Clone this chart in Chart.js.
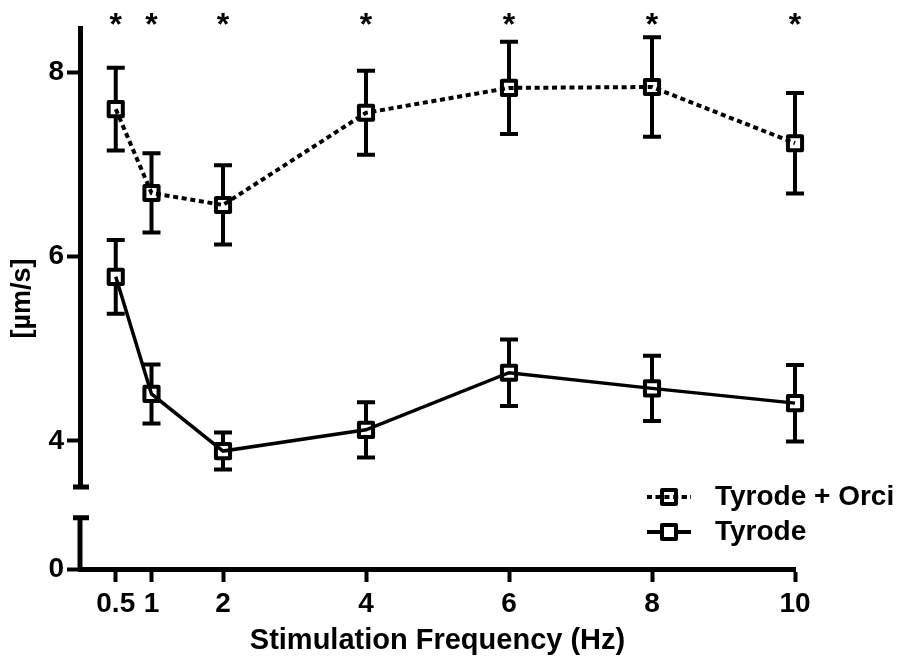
<!DOCTYPE html>
<html>
<head>
<meta charset="utf-8">
<title>Stimulation Frequency</title>
<script src="https://cdn.jsdelivr.net/npm/chart.js@4.4.1/dist/chart.umd.min.js"></script>
<style>
  html, body { margin: 0; padding: 0; background: #fff; }
  canvas { display: block; }
</style>
</head>
<body>
<canvas id="chart" width="897" height="667"></canvas>
<script>
// ===== Data =====
const frequencies = [0.5, 1, 2, 4, 6, 8, 10];
const orciMean = [7.60, 6.69, 6.56, 7.56, 7.83, 7.84, 7.23];
const orciSem = [0.45, 0.43, 0.43, 0.455, 0.50, 0.54, 0.545];
const tyrodeMean = [5.78, 4.51, 3.89, 4.12, 4.74, 4.57, 4.41];
const tyrodeSem = [0.40, 0.32, 0.20, 0.30, 0.36, 0.355, 0.415];
const upperTicks = [4, 6, 8];
const lowerTicks = [0];
const seriesLabels = ['Tyrode + Orci', 'Tyrode'];

const FONT = "'Liberation Sans', Arial, sans-serif";
const dotted = [5, 3.7];

const toPoints = (mean) => frequencies.map((f, i) => ({ x: f, y: mean[i] }));

// error bars go under the markers
const errorBars = {
  id: 'errorBars',
  beforeDatasetsDraw(chart) {
    const { ctx, scales: { x, y } } = chart;
    ctx.save();
    ctx.strokeStyle = '#000';
    ctx.lineWidth = 4;
    [[orciMean, orciSem], [tyrodeMean, tyrodeSem]].forEach(([mean, sem]) => {
      frequencies.forEach((f, i) => {
        const px = x.getPixelForValue(f);
        const top = y.getPixelForValue(mean[i] + sem[i]);
        const bot = y.getPixelForValue(mean[i] - sem[i]);
        ctx.beginPath();
        ctx.moveTo(px, top); ctx.lineTo(px, bot);
        ctx.moveTo(px - 9, top); ctx.lineTo(px + 9, top);
        ctx.moveTo(px - 9, bot); ctx.lineTo(px + 9, bot);
        ctx.stroke();
      });
    });
    ctx.restore();
    ctx.lineJoin = 'round';
  }
};

// broken axis, stars, y title, legend
const decorations = {
  id: 'decorations',
  afterDraw(chart) {
    const { ctx, scales: { x, y, y0 } } = chart;
    ctx.save();
    ctx.strokeStyle = '#000';
    ctx.fillStyle = '#000';

    // lower axis piece + caps at the break
    const ax = 80;
    const breakTop = y.bottom;
    const lowTop = y0.getPixelForValue(0.5);
    ctx.lineWidth = 5;
    ctx.beginPath();
    ctx.moveTo(ax, y0.getPixelForValue(0));
    ctx.lineTo(ax, lowTop);
    ctx.stroke();
    ctx.beginPath();
    ctx.moveTo(ax - 7, breakTop); ctx.lineTo(ax + 9, breakTop);
    ctx.moveTo(ax - 7, lowTop); ctx.lineTo(ax + 9, lowTop);
    ctx.stroke();

    // significance stars
    ctx.font = `bold 32px ${FONT}`;
    ctx.textAlign = 'center';
    ctx.textBaseline = 'alphabetic';
    frequencies.forEach(f => ctx.fillText('*', x.getPixelForValue(f), 35));

    // y title
    ctx.save();
    ctx.translate(23, (y.top + y0.bottom) / 2);
    ctx.rotate(-Math.PI / 2);
    ctx.font = `bold 27px ${FONT}`;
    ctx.textBaseline = 'middle';
    ctx.fillText('[µm/s]', 0, 0);
    ctx.restore();

    // legend
    const rows = [
      { label: seriesLabels[0], dash: dotted, yc: 497 },
      { label: seriesLabels[1], dash: [], yc: 532 }
    ];
    rows.forEach(r => {
      ctx.lineWidth = 4;
      ctx.setLineDash(r.dash);
      ctx.beginPath();
      ctx.moveTo(647, r.yc); ctx.lineTo(691, r.yc);
      ctx.stroke();
      ctx.setLineDash([]);
      ctx.lineJoin = 'round';
      ctx.fillStyle = '#fff';
      ctx.fillRect(662, r.yc - 7, 14, 14);
      ctx.strokeRect(662, r.yc - 7, 14, 14);
      if (r.dash.length) {
        ctx.setLineDash(r.dash);
        ctx.beginPath();
        ctx.moveTo(647, r.yc); ctx.lineTo(691, r.yc);
        ctx.stroke();
        ctx.setLineDash([]);
      }
      ctx.fillStyle = '#000';
      ctx.font = `bold 28px ${FONT}`;
      ctx.textAlign = 'left';
      ctx.textBaseline = 'middle';
      ctx.fillText(r.label, 715, r.yc);
    });
    ctx.restore();
  }
};

const tickGrid = {
  display: true,
  drawOnChartArea: false,
  drawTicks: true,
  tickLength: 13,
  tickWidth: 4,
  tickColor: '#000',
  color: '#000'
};
const tickFont = { family: FONT, size: 28, weight: 'bold' };

new Chart(document.getElementById('chart'), {
  type: 'line',
  data: {
    datasets: [
      {
        label: seriesLabels[0] + ' markers',
        data: toPoints(orciMean),
        showLine: false,
        pointStyle: 'rect',
        pointRadius: 10,
        pointBorderWidth: 4,
        pointBorderColor: '#000',
        pointBackgroundColor: '#fff',
        order: 2,
        clip: false
      },
      {
        label: seriesLabels[1] + ' markers',
        data: toPoints(tyrodeMean),
        showLine: false,
        pointStyle: 'rect',
        pointRadius: 10,
        pointBorderWidth: 4,
        pointBorderColor: '#000',
        pointBackgroundColor: '#fff',
        order: 2,
        clip: false
      },
      {
        label: seriesLabels[0],
        data: toPoints(orciMean),
        borderColor: '#000',
        borderWidth: 4,
        borderDash: dotted,
        pointRadius: 0,
        tension: 0,
        order: 1,
        clip: false
      },
      {
        label: seriesLabels[1],
        data: toPoints(tyrodeMean),
        borderColor: '#000',
        borderWidth: 3.5,
        pointRadius: 0,
        tension: 0,
        order: 1,
        clip: false
      }
    ]
  },
  options: {
    responsive: false,
    animation: false,
    events: [],
    layout: { padding: { top: 28, right: 102, left: 0, bottom: 0 } },
    plugins: { legend: { display: false }, tooltip: { enabled: false } },
    scales: {
      x: {
        type: 'linear',
        position: 'bottom',
        min: 0,
        max: 10,
        afterBuildTicks: s => { s.ticks = frequencies.map(v => ({ value: v })); },
        afterFit: s => { s.height = 98; },
        grid: tickGrid,
        border: { display: true, width: 5, color: '#000' },
        ticks: { font: tickFont, color: '#000', padding: 5, maxRotation: 0, autoSkip: false },
        title: {
          display: true,
          text: 'Stimulation Frequency (Hz)',
          color: '#000',
          font: { family: FONT, size: 29, weight: 'bold' },
          padding: { top: 0, bottom: 9 }
        }
      },
      y: {
        type: 'linear',
        position: 'left',
        stack: 'left',
        stackWeight: 459,
        weight: 1,
        min: 3.5,
        max: 8.48,
        afterBuildTicks: s => { s.ticks = upperTicks.map(v => ({ value: v })); },
        afterFit: s => { s.width = 80; },
        grid: tickGrid,
        border: { display: true, width: 5, color: '#000' },
        ticks: { font: tickFont, color: '#000', padding: 3 }
      },
      y0: {
        type: 'linear',
        position: 'left',
        stack: 'left',
        stackWeight: 82,
        weight: 0,
        min: 0,
        max: 0.8,
        afterBuildTicks: s => { s.ticks = lowerTicks.map(v => ({ value: v })); },
        afterFit: s => { s.width = 80; },
        grid: tickGrid,
        border: { display: false },
        ticks: { font: tickFont, color: '#000', padding: 3 }
      }
    }
  },
  plugins: [errorBars, decorations]
});
</script>
</body>
</html>
